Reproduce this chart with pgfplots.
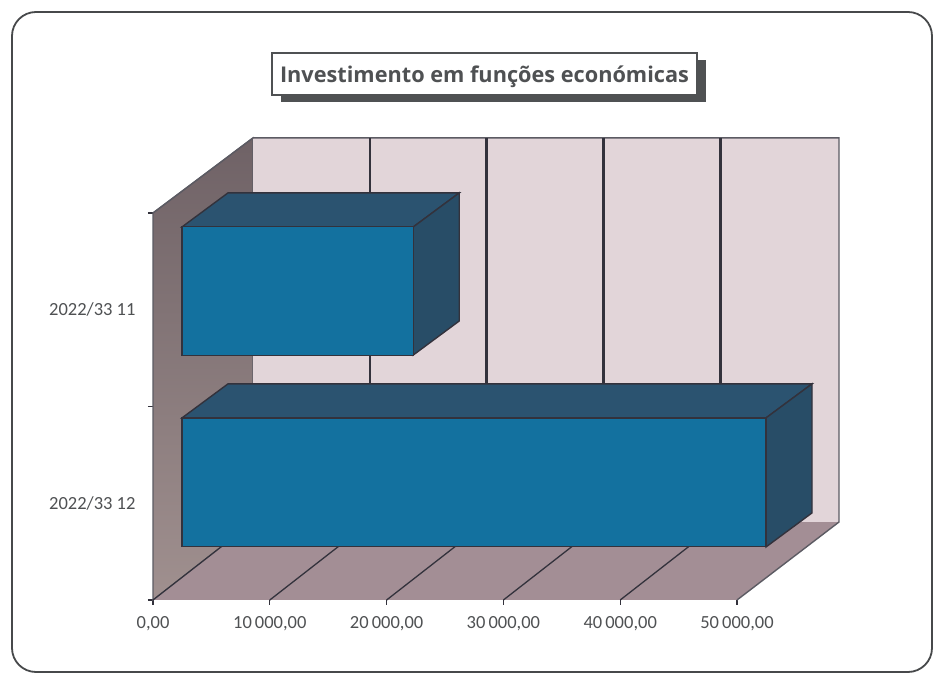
\documentclass[border=0pt]{standalone}
\usepackage{pgfplots}
\pgfplotsset{compat=1.18}
\usepackage{fontspec}
\setmainfont{Carlito}
\newfontfamily\titlefont{Open Sans}
\definecolor{wall}{HTML}{E2D5D9}
\definecolor{floorc}{HTML}{A38E95}
\definecolor{edgec}{HTML}{33323C}
\definecolor{front}{HTML}{13719F}
\definecolor{topc}{HTML}{2B5370}
\definecolor{sidec}{HTML}{284D67}
\definecolor{txt}{HTML}{4F5153}
\definecolor{lwtop}{HTML}{6F6266}
\definecolor{lwbot}{HTML}{A0908F}
\begin{document}
\begin{tikzpicture}[x=1pt,y=1pt]
\path[fill=white] (0,0) rectangle (935,675);
\draw[color=txt!90!black,line width=1.8pt,rounded corners=24pt] (12,3) rectangle (932,663);
\begin{axis}[
  at={(153pt,75pt)},anchor=south west,
  width=584pt,height=387pt,scale only axis,
  xmin=0,xmax=50000,ymin=0,ymax=2,
  clip=false,
  scaled x ticks=false,
  axis x line=bottom,axis y line=left,
  axis line style={-,color=edgec,line width=1pt},
  tick align=outside,
  major tick length=5pt,
  tick style={color=edgec,line width=1.2pt},
  xtick={0,10000,20000,30000,40000,50000},
  xticklabels={{0,00},{10\,000,00},{20\,000,00},{30\,000,00},{40\,000,00},{50\,000,00}},
  ytick={0,1,2},
  yticklabels={,,},
  extra y ticks={0.5,1.5},
  extra y tick labels={2022/33 12,2022/33 11},
  extra y tick style={major tick length=0pt,tick style={draw=none},yticklabel style={xshift=-14pt}},
  ticklabel style={font=\fontsize{18.5}{22}\selectfont,color=txt},
  xticklabel style={yshift=-8pt},
]
% walls
\addplot[draw=edgec!80!white,line width=1.2pt,top color=lwtop,bottom color=lwbot] coordinates {(0,2) (8562,2.388) (8562,0.403) (0,0)} -- cycle;
\addplot[draw=none,fill=wall] coordinates {(8562,0.403) (58733,0.403) (58733,2.388) (8562,2.388)} -- cycle;
\addplot[draw=none,fill=floorc] coordinates {(0,0) (8562,0.403) (58733,0.403) (50000,0)} -- cycle;
% wall outline
\addplot[draw=edgec!80!white,line width=1.4pt] coordinates {(8562,2.388) (58733,2.388) (58733,0.403) (50000,0)};
\addplot[draw=edgec!80!white,line width=1.4pt] coordinates {(0,2) (8562,2.388)};
% grid on the back wall
\addplot[edgec,line width=2.6pt] coordinates {(18562,2.388) (18562,0.403)};
\addplot[edgec,line width=2.6pt] coordinates {(28562,2.388) (28562,0.403)};
\addplot[edgec,line width=2.6pt] coordinates {(38562,2.388) (38562,0.403)};
\addplot[edgec,line width=2.6pt] coordinates {(48562,2.388) (48562,0.403)};
% grid on the floor
\addplot[edgec,line width=1.3pt] coordinates {(0,0) (8562,0.403)};
\addplot[edgec,line width=1.3pt] coordinates {(10000,0) (18562,0.403)};
\addplot[edgec,line width=1.3pt] coordinates {(20000,0) (28562,0.403)};
\addplot[edgec,line width=1.3pt] coordinates {(30000,0) (38562,0.403)};
\addplot[edgec,line width=1.3pt] coordinates {(40000,0) (48562,0.403)};
% lower bar: 3D faces
\addplot[draw=edgec,line width=1.4pt,fill=topc] coordinates {(52483,0.941) (2483,0.941) (6421,1.117) (56421,1.117)} -- cycle;
\addplot[draw=edgec,line width=1.4pt,fill=sidec] coordinates {(52483,0.941) (52483,0.274) (56421,0.450) (56421,1.117)} -- cycle;
% upper bar: 3D faces
\addplot[draw=edgec,line width=1.4pt,fill=topc] coordinates {(22283,1.928) (2483,1.928) (6421,2.104) (26221,2.104)} -- cycle;
\addplot[draw=edgec,line width=1.4pt,fill=sidec] coordinates {(22283,1.928) (22283,1.266) (26221,1.442) (26221,2.104)} -- cycle;
% front faces
\addplot[xbar,bar width=128.5pt,bar shift=0pt,xshift=29pt,draw=edgec,line width=1.4pt,fill=front] coordinates {(50000,0.6075)};
\addplot[xbar,bar width=128.5pt,bar shift=0pt,xshift=29pt,draw=edgec,line width=1.4pt,fill=front] coordinates {(19800,1.597)};
\end{axis}
\fill[color=txt] (281,573) rectangle (706,615);
\draw[color=txt,line width=1.3pt,fill=white] (272,580) rectangle (697,622);
\node[inner sep=0pt,text=txt,anchor=base] at (484.5,592.5)
  {\titlefont\bfseries\fontsize{21.7}{26}\selectfont Investimento em funções económicas};
\end{tikzpicture}
\end{document}
